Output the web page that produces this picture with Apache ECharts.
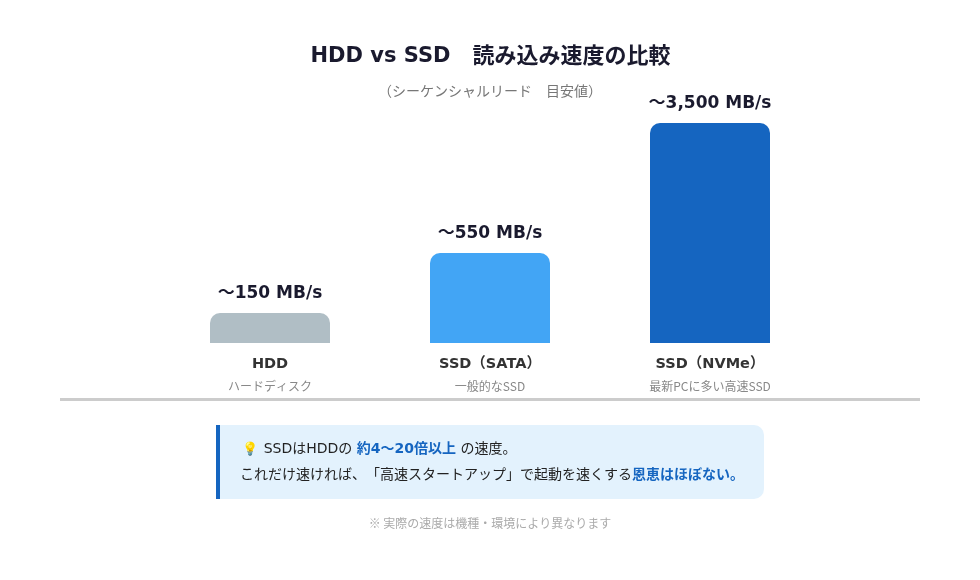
<!DOCTYPE html>
<html><head><meta charset="utf-8">
<style>html,body{margin:0;padding:0;background:#fff}#c{width:980px;height:580px}</style>
<script src="https://cdn.jsdelivr.net/npm/echarts@6/dist/echarts.min.js"></script>
</head><body><div id="c"></div>
<script>
const categories = ['HDD','SSD（SATA）','SSD（NVMe）'];
const subLabels = ['ハードディスク','一般的なSSD','最新PCに多い高速SSD'];
const speedLabels = ['〜150 MB/s','〜550 MB/s','〜3,500 MB/s'];
const drawnHeights = [30,90,220];
const barColors = ['#b0bec5','#42a5f5','#1565c0'];
const FONT = '"DejaVu Sans","Noto Sans CJK JP",sans-serif';
const JP = '"Noto Sans CJK JP","DejaVu Sans",sans-serif';
const chart = echarts.init(document.getElementById('c'), null, {renderer:'canvas'});
chart.setOption({
  animation:false,
  backgroundColor:'#fff',
  title:[
    {text:'{a|HDD vs SSD}{b|　読み込み速度の比較}',left:485.5,top:38,textAlign:'center',
     textStyle:{rich:{
       a:{fontFamily:FONT,fontSize:21,fontWeight:'bold',color:'#1a1a2e',lineHeight:28},
       b:{fontFamily:JP,fontSize:22,fontWeight:'bold',color:'#1a1a2e',lineHeight:28,padding:[0,0,4,0]}}}},
    {text:'（シーケンシャルリード　目安値）',left:485,top:79,textAlign:'center',
     textStyle:{fontFamily:JP,fontSize:14,fontWeight:'normal',color:'#777'}}
  ],
  grid:{left:160,right:160,top:123,height:220},
  xAxis:{type:'category',data:categories,
    axisLine:{show:false},axisTick:{show:false},
    axisLabel:{interval:0,margin:10.5,
      formatter:(v,i)=>`{n|${v}}\n{s|${subLabels[i]}}`,
      rich:{
        n:{fontFamily:FONT,fontSize:14.5,fontWeight:'bold',color:'#333',lineHeight:22,align:'center'},
        s:{fontFamily:JP,fontSize:12,color:'#888',lineHeight:22,align:'center'}
      }}},
  yAxis:{type:'value',min:0,max:220,show:false,splitLine:{show:false}},
  series:[{
    type:'bar',barWidth:120,
    data:drawnHeights.map((h,i)=>({value:h,itemStyle:{color:barColors[i],borderRadius:[10,10,0,0]}})),
    label:{show:true,position:'top',distance:11,formatter:p=>speedLabels[p.dataIndex],
      fontFamily:FONT,fontSize:17,fontWeight:'bold',color:'#1a1a2e'}
  }],
  graphic:[
    {type:'rect',shape:{x:60,y:398,width:860,height:3},style:{fill:'#cccccc'},silent:true},
    {type:'rect',shape:{x:216,y:425,width:548,height:74,r:[0,10,10,0]},style:{fill:'#e3f2fd'},silent:true},
    {type:'rect',shape:{x:216,y:425,width:4,height:74},style:{fill:'#1565c0'},silent:true},
    {type:'text',x:241,y:449,silent:true,style:{
      text:'{e|💡}{t| SSDはHDDの }{b|約4〜20倍以上}{t| の速度。}',verticalAlign:'middle',
      rich:{e:{fontSize:13,fontFamily:'"Noto Color Emoji",'+JP,padding:[0,1,0,1]},
        t:{fontFamily:FONT,fontSize:14,fill:'#222'},
        b:{fontFamily:FONT,fontSize:14,fontWeight:'bold',fill:'#1565c0'}}}},
    {type:'text',x:240,y:474,silent:true,style:{
      text:'{t|これだけ速ければ、}{t|「高速スタートアップ」}{t|で起動を速くする}{b|恩恵はほぼない。}',verticalAlign:'middle',
      rich:{t:{fontFamily:JP,fontSize:14,fill:'#222'},
        b:{fontFamily:JP,fontSize:14,fontWeight:'bold',fill:'#1565c0'}}}},
    {type:'text',x:490,y:523,silent:true,style:{
      text:'※ 実際の速度は機種・環境により異なります',align:'center',verticalAlign:'middle',
      font:'12px '+JP,fill:'#aaa'}}
  ]
});
</script></body></html>
